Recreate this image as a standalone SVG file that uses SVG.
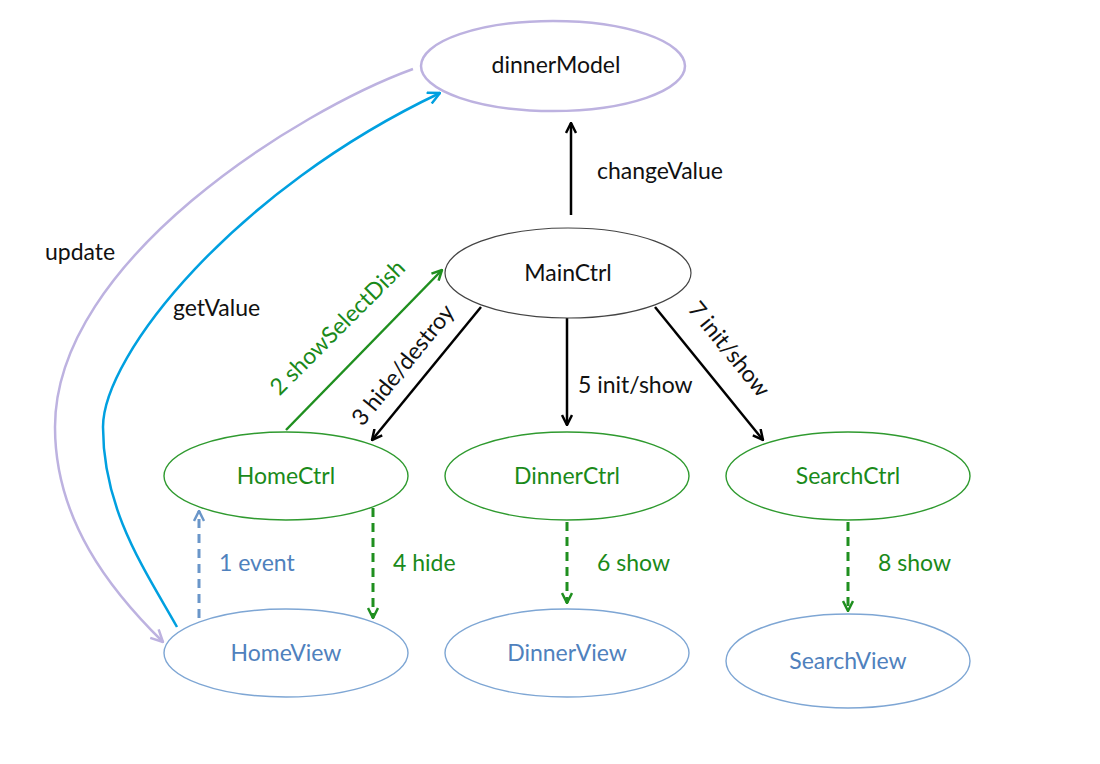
<svg xmlns="http://www.w3.org/2000/svg" width="1100" height="764" viewBox="0 0 1100 764">
<style>
text{font-family:Lato,"Open Sans","Liberation Sans",sans-serif;font-size:23px}
.n{text-anchor:middle}
.blk{fill:#111}
.grn{fill:#1a8a1a}
.blu{fill:#4f81bd}
.ec{fill:#fff;stroke:#2f9a2f;stroke-width:1.4}
.ev{fill:#fff;stroke:#7ea6d4;stroke-width:1.4}
.em{fill:#fff;stroke:#444;stroke-width:1.2}
.ed{fill:#fff;stroke:#bdb2e0;stroke-width:2.5}
.ab{fill:none;stroke:#000;stroke-width:2.5}
.ag{fill:none;stroke:#1f8f1f;stroke-width:2.5}
.dg{fill:none;stroke:#1f8f1f;stroke-width:3;stroke-dasharray:9,6}
.db{fill:none;stroke:#6a96c9;stroke-width:3;stroke-dasharray:9,6}
</style>
<defs>
<marker id="hb" viewBox="0 0 12 12" refX="11" refY="6" markerWidth="12" markerHeight="12" markerUnits="userSpaceOnUse" orient="auto"><path d="M1,1 L11,6 L1,11" fill="none" stroke="#000" stroke-width="2.5"/></marker>
<marker id="hg" viewBox="0 0 12 12" refX="11" refY="6" markerWidth="12" markerHeight="12" markerUnits="userSpaceOnUse" orient="auto"><path d="M1,1 L11,6 L1,11" fill="none" stroke="#1f8f1f" stroke-width="2.5"/></marker>
<marker id="hbl" viewBox="0 0 12 12" refX="11" refY="6" markerWidth="12" markerHeight="12" markerUnits="userSpaceOnUse" orient="auto"><path d="M1,1 L11,6 L1,11" fill="none" stroke="#6a96c9" stroke-width="2.5"/></marker>
<marker id="hc" viewBox="0 0 14 14" refX="13" refY="7" markerWidth="14" markerHeight="14" markerUnits="userSpaceOnUse" orient="auto"><path d="M1,1 L13,7 L1,13" fill="none" stroke="#00a0e0" stroke-width="2.5"/></marker>
<marker id="hl" viewBox="0 0 14 14" refX="13" refY="7" markerWidth="14" markerHeight="14" markerUnits="userSpaceOnUse" orient="auto"><path d="M1,1 L13,7 L1,13" fill="none" stroke="#bdb2e0" stroke-width="2.5"/></marker>
</defs>
<rect width="1100" height="764" fill="#fff"/>

<g id="connectors">
<path d="M413,69 C300,110 55,260 55,427 C55,520 110,590 163,642" fill="none" stroke="#bdb2e0" stroke-width="2.5" marker-end="url(#hl)"/>
<path d="M177,627 C145,570 103,510 103,427 C103,355 235,190 440,93" fill="none" stroke="#00a0e0" stroke-width="2.5" marker-end="url(#hc)"/>
<line x1="571" y1="215" x2="571" y2="123" class="ab" marker-end="url(#hb)"/>
<line x1="286" y1="430" x2="442" y2="270" class="ag" marker-end="url(#hg)"/>
<line x1="481" y1="307" x2="372" y2="440" class="ab" marker-end="url(#hb)"/>
<line x1="567" y1="318" x2="567" y2="425" class="ab" marker-end="url(#hb)"/>
<line x1="655" y1="307" x2="763" y2="440" class="ab" marker-end="url(#hb)"/>
<line x1="199" y1="618" x2="199" y2="511" class="db" marker-end="url(#hbl)"/>
<line x1="373" y1="508" x2="373" y2="618" class="dg" marker-end="url(#hg)"/>
<line x1="567" y1="522" x2="567" y2="603" class="dg" marker-end="url(#hg)"/>
<line x1="848" y1="522" x2="848" y2="611" class="dg" marker-end="url(#hg)"/>
<text x="597" y="179" class="blk">changeValue</text>
<text x="45" y="260" class="blk">update</text>
<text x="173" y="316" class="blk">getValue</text>
<text x="578" y="393" class="blk">5 init/show</text>
<text x="219" y="571" class="blu">1 event</text>
<text x="393" y="571" class="grn">4 hide</text>
<text x="597" y="571" class="grn">6 show</text>
<text x="878" y="571" class="grn">8 show</text>
<text class="grn n" transform="translate(343,333) rotate(-45)">2 showSelectDish</text>
<text class="blk n" transform="translate(409,370) rotate(-51)">3 hide/destroy</text>
<text class="blk n" transform="translate(723,354) rotate(51)">7 init/show</text>
</g>

<g id="dinnerModel"><ellipse cx="553" cy="66" rx="132" ry="45" class="ed"/><text x="556" y="73" class="n blk">dinnerModel</text></g>
<g id="MainCtrl"><ellipse cx="568" cy="273" rx="123" ry="45" class="em"/><text x="568" y="281" class="n blk">MainCtrl</text></g>
<g id="HomeCtrl"><ellipse cx="286" cy="476" rx="122" ry="44" class="ec"/><text x="286" y="484" class="n grn">HomeCtrl</text></g>
<g id="DinnerCtrl"><ellipse cx="567" cy="476" rx="122" ry="44" class="ec"/><text x="567" y="484" class="n grn">DinnerCtrl</text></g>
<g id="SearchCtrl"><ellipse cx="848" cy="476" rx="122" ry="44" class="ec"/><text x="848" y="484" class="n grn">SearchCtrl</text></g>
<g id="HomeView"><ellipse cx="286" cy="653" rx="122" ry="44" class="ev"/><text x="286" y="661" class="n blu">HomeView</text></g>
<g id="DinnerView"><ellipse cx="567" cy="653" rx="122" ry="44" class="ev"/><text x="567" y="661" class="n blu">DinnerView</text></g>
<g id="SearchView"><ellipse cx="848" cy="661" rx="122" ry="47" class="ev"/><text x="848" y="669" class="n blu">SearchView</text></g>
</svg>
